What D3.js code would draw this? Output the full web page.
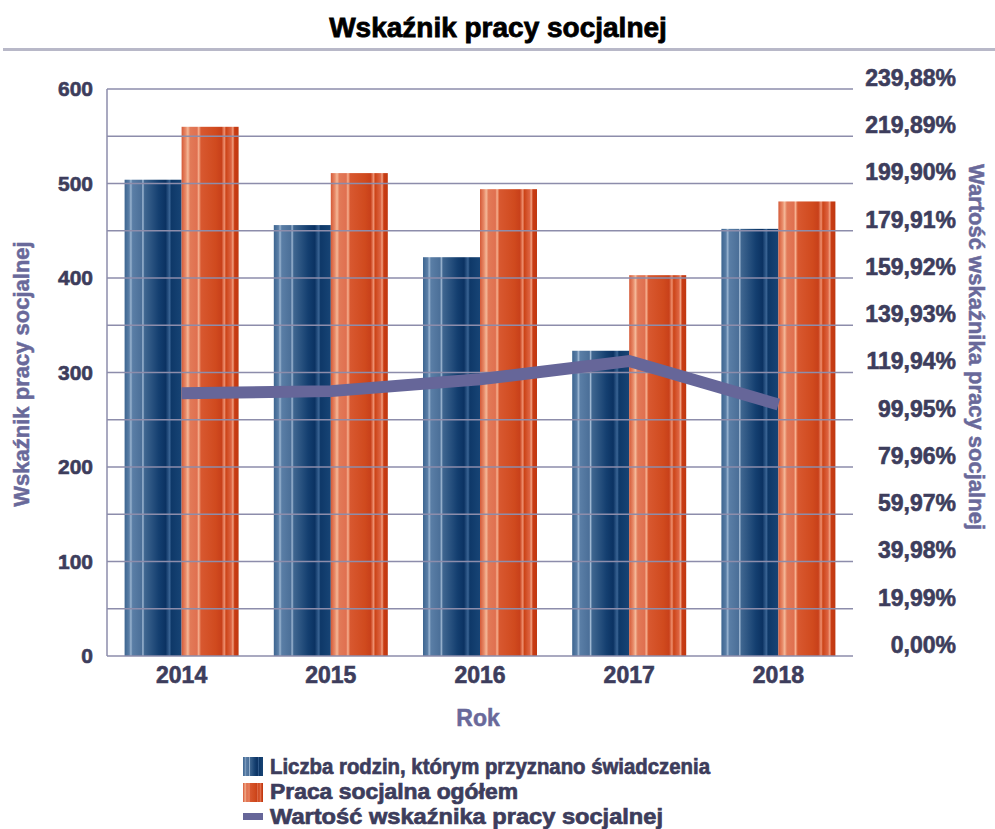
<!DOCTYPE html>
<html><head><meta charset="utf-8">
<script src="https://cdn.jsdelivr.net/npm/d3@7"></script>
<style>
html,body{margin:0;padding:0;background:#fff;}
svg{display:block;}
</style></head>
<body>
<svg id="chart" width="995" height="829"></svg>
<script>
const title = "Wskaźnik pracy socjalnej";
const categories = ["2014","2015","2016","2017","2018"];
const families = [504, 456, 422, 323, 452];
const socialWork = [560, 511, 494, 403, 481];
const indicator = [111.11, 112.06, 117.06, 124.77, 106.42];
const leftTicks = [0,100,200,300,400,500,600];
const rightTickLabels = ["0,00%","19,99%","39,98%","59,97%","79,96%","99,95%","119,94%","139,93%","159,92%","179,91%","199,90%","219,89%","239,88%"];
const seriesNames = ["Liczba rodzin, którym przyznano świadczenia","Praca socjalna ogółem","Wartość wskaźnika pracy socjalnej"];
const xTitle = "Rok";
const yTitleLeft = "Wskaźnik pracy socjalnej";
const yTitleRight = "Wartość wskaźnika pracy socjalnej";

const svg = d3.select("#chart");
const M = {left:107, right:853, top:89, bottom:656};
const x = d3.scaleBand().domain(categories).range([M.left, M.right]).paddingInner(0).paddingOuter(0);
const y = d3.scaleLinear().domain([0,600]).range([M.bottom, M.top]);
const y2 = d3.scaleLinear().domain([0,239.88]).range([M.bottom, M.top]);

const textCol = "#3d3d5c", titleCol = "#69699a", axisCol = "#8d8dab";
const FONT = "'Liberation Sans', Arial, sans-serif";

function heavy(sel, col, w){ return sel.style("stroke", col).style("stroke-width", w||0.6).style("paint-order","stroke"); }

const defs = svg.append("defs");
function grad(id, stops){
  const g = defs.append("linearGradient").attr("id", id).attr("x1","0").attr("x2","1").attr("y1","0").attr("y2","0");
  stops.forEach(s => g.append("stop").attr("offset", s[0]).attr("stop-color", s[1]));
}
grad("gBlue", [[0,"#3d6590"],[0.08,"#5a7ea6"],[0.11,"#9ab4d0"],[0.14,"#5a7ea6"],[0.3,"#4b6f98"],[0.32,"#a4bcd6"],[0.35,"#3f6690"],[0.6,"#143f70"],[0.72,"#0b3262"],[0.79,"#3a6494"],[0.82,"#0e3868"],[1,"#174475"]]);
grad("gOrange", [[0,"#d45a38"],[0.07,"#e88a68"],[0.11,"#f4b898"],[0.15,"#e27a58"],[0.27,"#e07050"],[0.3,"#f6b090"],[0.34,"#d85830"],[0.6,"#d04a1e"],[0.7,"#c8401a"],[0.75,"#ee9070"],[0.78,"#cc4418"],[0.87,"#dd6442"],[0.9,"#f0a080"],[0.93,"#c83c14"],[1,"#c03810"]]);

// title
const tt = svg.append("text").attr("x", 498).attr("y", 37).attr("text-anchor","middle")
  .style("font-family", FONT).style("font-weight","bold").style("font-size","28px").style("fill","#000").text(title);
heavy(tt, "#000", 0.8);
svg.append("rect").attr("x",3).attr("y",48).attr("width",992).attr("height",3).attr("fill","#b8b8c8");

// bars
const bw = 57;
const g = svg.append("g");
categories.forEach((c,i) => {
  const cx = x(c) + x.bandwidth()/2;
  g.append("rect").attr("x", cx - bw).attr("y", y(families[i])).attr("width", bw).attr("height", y(0)-y(families[i])).attr("fill","url(#gBlue)");
  g.append("rect").attr("x", cx).attr("y", y(socialWork[i])).attr("width", bw).attr("height", y(0)-y(socialWork[i])).attr("fill","url(#gOrange)");
});

// gridlines (drawn over bars)
const grid = d3.range(0, 601, 50);
svg.append("g").selectAll("line").data(grid).join("line")
  .attr("x1", M.left).attr("x2", M.right).attr("y1", d=>y(d)).attr("y2", d=>y(d))
  .attr("stroke", axisCol).attr("stroke-width", 1.5);
svg.append("line").attr("x1", M.left).attr("x2", M.left).attr("y1", M.top).attr("y2", M.bottom).attr("stroke", axisCol).attr("stroke-width", 1.5);

// left axis
const la = svg.append("g").attr("transform", `translate(${M.left-14},0)`)
  .call(d3.axisLeft(y).tickValues(leftTicks).tickSize(0).tickPadding(0));
la.select(".domain").remove();
heavy(la.selectAll("text").style("font-family", FONT).style("font-weight","bold").style("font-size","21px").style("fill", textCol), textCol, 0.6);

// bottom axis
const ba = svg.append("g").attr("transform", `translate(0,${M.bottom})`)
  .call(d3.axisBottom(x).tickSize(0).tickPadding(11));
ba.select(".domain").remove();
heavy(ba.selectAll("text").style("font-family", FONT).style("font-weight","bold").style("font-size","23px").style("fill", textCol), textCol, 0.6);

// right axis labels
const ra = svg.append("g").attr("transform", `translate(956,-11)`)
  .call(d3.axisRight(y2).tickValues(rightTickLabels.map((t,i)=>i*19.99)).tickFormat((d,i)=>rightTickLabels[i]).tickSize(0).tickPadding(0));
ra.select(".domain").remove();
heavy(ra.selectAll("text").attr("text-anchor","end").style("font-family", FONT).style("font-weight","bold").style("font-size","23px").style("fill", textCol), textCol, 0.6);

// line
const line = d3.line().x(d=>x(d.c)+x.bandwidth()/2).y(d=>y2(d.v));
svg.append("path").datum(categories.map((c,i)=>({c, v: indicator[i]})))
  .attr("d", line).attr("fill","none").attr("stroke","#666699").attr("stroke-width",12).attr("stroke-linejoin","miter").attr("stroke-linecap","butt");

// axis titles
heavy(svg.append("text").attr("transform","translate(29,374) rotate(-90)").attr("text-anchor","middle")
  .style("font-family", FONT).style("font-weight","bold").style("font-size","22px").style("fill", titleCol).text(yTitleLeft), titleCol, 0.5);
heavy(svg.append("text").attr("transform","translate(969,347) rotate(90)").attr("text-anchor","middle")
  .style("font-family", FONT).style("font-weight","bold").style("font-size","22px").style("fill", titleCol).text(yTitleRight), titleCol, 0.5);
heavy(svg.append("text").attr("x", 478).attr("y", 726).attr("text-anchor","middle")
  .style("font-family", FONT).style("font-weight","bold").style("font-size","23px").style("fill", titleCol).text(xTitle), titleCol, 0.5);

// legend
const lg = svg.append("g");
const lb = [774, 799, 824];
const legendWidths = [440, 248, 393];
lg.append("rect").attr("x",243).attr("y",757).attr("width",20).attr("height",19).attr("fill","url(#gBlue)");
lg.append("rect").attr("x",243).attr("y",783).attr("width",20).attr("height",19).attr("fill","url(#gOrange)");
lg.append("rect").attr("x",243).attr("y",813).attr("width",20).attr("height",7).attr("fill","#666699");
seriesNames.forEach((n,i)=>{
  heavy(lg.append("text").attr("x",270).attr("y",lb[i])
    .attr("textLength", legendWidths[i]).attr("lengthAdjust","spacingAndGlyphs")
    .style("font-family", FONT).style("font-weight","bold").style("font-size","22px").style("fill", textCol).text(n), textCol, 0.7);
});
</script>
</body></html>
